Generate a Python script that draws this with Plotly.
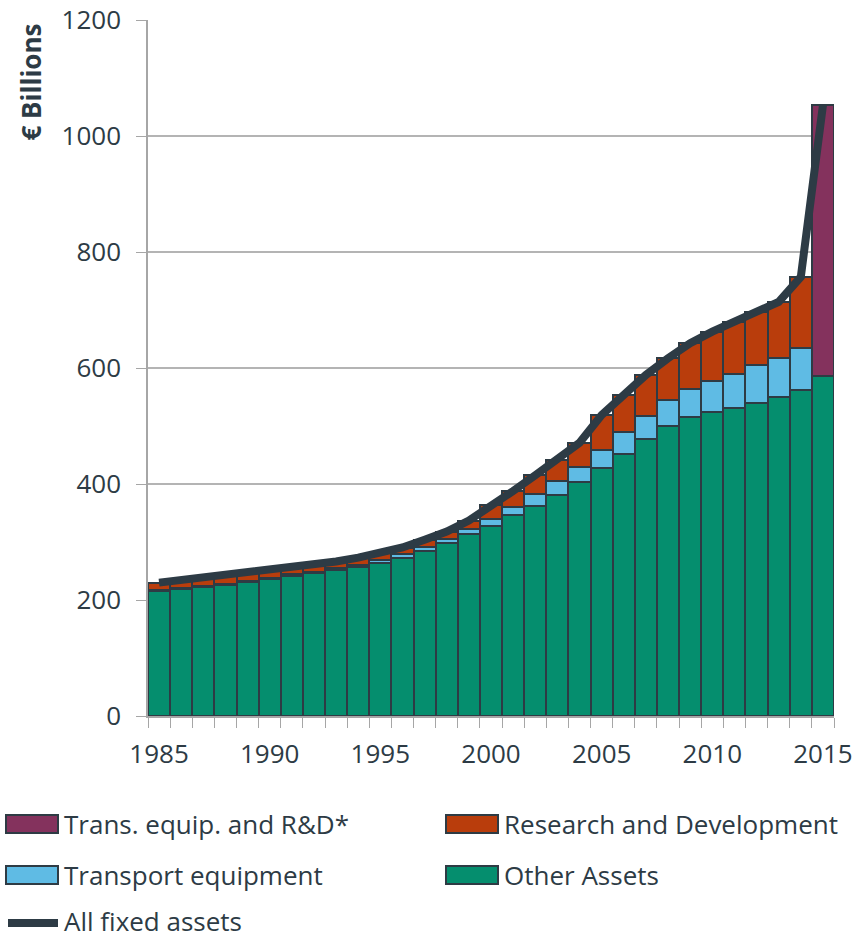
import plotly.graph_objects as go

years = list(range(1985, 2016))

other_assets = [216, 219, 223, 226, 231.6, 236.8, 242, 247, 251.7, 257,
                264, 273, 285, 298, 313, 328, 346, 362.6, 381.6, 403,
                427, 451.7, 477, 500, 515, 523.6, 531.6, 539.7, 550.6, 562,
                585.6]
transport = [2, 2, 2, 2, 2, 2, 2, 2, 3, 4,
             5, 6, 7, 8, 10, 12.4, 14, 19.4, 23, 27,
             31.6, 37.3, 40.8, 44.8, 49, 54, 58.4, 64.9, 66.4, 71.9,
             None]
research_dev = [12, 13.5, 13.5, 14.5, 13.4, 13.2, 12.7, 12.8, 11.7, 12,
                12, 11.5, 12, 12, 14, 23, 28, 33, 36.4, 41,
                60.4, 64, 70.2, 71.9, 78.6, 85, 89.8, 92.4, 97, 123,
                None]
trans_rd_2015 = [None] * 30 + [467]
all_fixed = [230, 234.5, 238.5, 242.5, 247, 252, 256.7, 261.8, 266.4, 273,
             281, 290.5, 304, 318, 337, 361, 388, 415, 441, 471,
             519, 553, 588, 616.7, 642.6, 662.6, 679.8, 697, 714, 757,
             1053]

text_col = "#2d3b45"
edge_col = "#2e3b44"
colors = {"Trans. equip. and R&D*": "#84325d",
          "Research and Development": "#b93d0c",
          "Transport equipment": "#5fbbe4",
          "Other Assets": "#058e6e"}
edge = dict(color=edge_col, width=2)

fig = go.Figure()
fig.add_trace(go.Bar(x=years, y=other_assets, name="Other Assets",
                     marker=dict(color=colors["Other Assets"], line=edge)))
fig.add_trace(go.Bar(x=years, y=transport, name="Transport equipment",
                     marker=dict(color=colors["Transport equipment"], line=edge)))
fig.add_trace(go.Bar(x=years, y=research_dev, name="Research and Development",
                     marker=dict(color=colors["Research and Development"], line=edge)))
fig.add_trace(go.Bar(x=years, y=trans_rd_2015, name="Trans. equip. and R&D*",
                     marker=dict(color=colors["Trans. equip. and R&D*"], line=edge)))
fig.add_trace(go.Scatter(x=years, y=all_fixed, name="All fixed assets",
                         mode="lines", line=dict(color="#2d3b45", width=8)))

# plot area in pixels, used to place the hand-made legend
L, R, T, B = 148, 834, 20, 716
def px(x):
    return (x - L) / (R - L)
def py(y):
    return (B - y) / (B - T)

shapes = []
annotations = [dict(text="<b>€ Billions</b>", textangle=-90,
                    xref="paper", yref="paper", x=px(30), y=py(22),
                    xanchor="center", yanchor="top", showarrow=False,
                    font=dict(size=26, color=text_col))]

legend_items = [("Trans. equip. and R&D*", 6, 824),
                ("Research and Development", 446, 824),
                ("Transport equipment", 6, 875),
                ("Other Assets", 446, 875)]
for name, x0, yc in legend_items:
    shapes.append(dict(type="rect", xref="paper", yref="paper",
                       x0=px(x0), x1=px(x0 + 52), y0=py(yc - 9), y1=py(yc + 9),
                       fillcolor=colors[name], line=dict(color=edge_col, width=2)))
    annotations.append(dict(text=name, xref="paper", yref="paper",
                            x=px(x0 + 56), y=py(yc), xanchor="left", yanchor="middle",
                            showarrow=False, font=dict(size=26, color=text_col)))
shapes.append(dict(type="line", xref="paper", yref="paper",
                   x0=px(8), x1=px(58), y0=py(923), y1=py(923),
                   line=dict(color="#2d3b45", width=8)))
annotations.append(dict(text="All fixed assets", xref="paper", yref="paper",
                        x=px(62), y=py(921), xanchor="left", yanchor="middle",
                        showarrow=False, font=dict(size=26, color=text_col)))

fig.update_layout(
    width=862, height=940,
    barmode="stack", bargap=0,
    plot_bgcolor="white", paper_bgcolor="white",
    font=dict(family="Open Sans", size=26, color=text_col),
    margin=dict(l=L, r=862 - R, t=T, b=940 - B, autoexpand=False),
    showlegend=False,
    shapes=shapes,
    annotations=annotations,
)
fig.update_xaxes(range=[1984.5, 2015.5], tickmode="linear", tick0=1985, dtick=5,
                 ticks="", showgrid=False, showline=True, linecolor="#a6a6a6",
                 linewidth=1.5, automargin=False, ticklabelstandoff=14,
                 minor=dict(tickmode="linear", tick0=1984.5, dtick=1,
                            ticks="outside", ticklen=10, tickcolor="#a6a6a6",
                            showgrid=False),
                 tickfont=dict(size=26))
fig.update_yaxes(range=[0, 1200], tickmode="linear", tick0=0, dtick=200,
                 showgrid=True, gridcolor="#b4b4b4", gridwidth=1.5,
                 showline=True, linecolor="#a6a6a6", linewidth=1.5,
                 ticks="outside", ticklen=10, tickcolor="#a6a6a6",
                 zeroline=False, ticklabelstandoff=10, automargin=False,
                 tickfont=dict(size=26))

# the page body has a default margin; remove it so the figure fills the window
fig.write_html("out.html", config={"displayModeBar": False},
               post_script="document.body.style.margin='0';"
                           "document.body.style.overflow='hidden';")
